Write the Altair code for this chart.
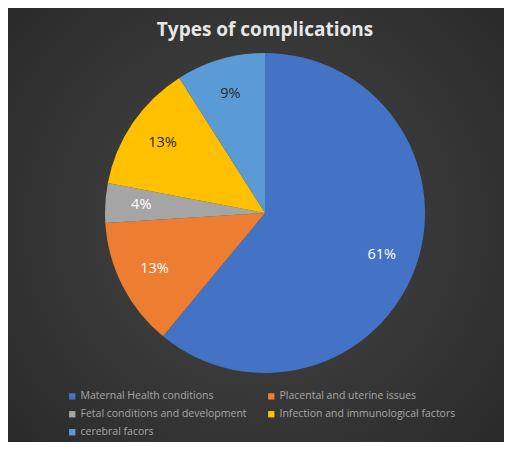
import altair as alt
import pandas as pd

categories = [
    "Maternal Health conditions",
    "Placental and uterine issues",
    "Fetal conditions and development",
    "Infection and immunological factors",
    "cerebral facors",
]
values = [61, 13, 4, 13, 9]
colors = ["#4472C4", "#ED7D31", "#A5A5A5", "#FFC000", "#5B9BD5"]
title_text = "Types of complications"

df = pd.DataFrame({
    "category": categories,
    "value": values,
    "idx": list(range(len(categories))),
})
df["label"] = [f"{v}%" for v in values]

W, H = 496, 434
CX, CY, R = 257, 205, 160

bg = alt.Chart(pd.DataFrame({"a": [0]})).mark_rect(
    fill=alt.Gradient(
        gradient="radial",
        stops=[alt.GradientStop(color="#474747", offset=0),
               alt.GradientStop(color="#262626", offset=1)],
        x1=0.5, y1=0.5, r1=0, x2=0.5, y2=0.5, r2=0.75,
    )
).encode(x=alt.value(0), x2=alt.value(W), y=alt.value(0), y2=alt.value(H))

base = alt.Chart(df).encode(
    theta=alt.Theta("value:Q", stack=True),
    order=alt.Order("idx:Q", sort="ascending"),
)

arcs = base.mark_arc(radius=R, strokeWidth=0).encode(
    color=alt.Color(
        "category:N",
        scale=alt.Scale(domain=categories, range=colors),
        legend=alt.Legend(
            title=None,
            orient="none",
            direction="horizontal",
            legendX=59,
            legendY=383,
            columns=2,
            symbolType="square",
            symbolSize=40,
            symbolStrokeWidth=0,
            labelColor="#A6A6A6",
            labelFont="Open Sans",
            labelFontSize=10.5,
            labelOffset=3,
            rowPadding=7,
            columnPadding=19,
            labelLimit=300,
        ),
    ),
    x=alt.value(CX),
    y=alt.value(CY),
)

labels = base.mark_text(radius=124, font="Open Sans", fontSize=14.5).encode(
    text="label:N",
    x=alt.value(CX),
    y=alt.value(CY),
    color=alt.condition(
        "datum.category == 'Infection and immunological factors' || datum.category == 'cerebral facors'",
        alt.value("#2a2a2a"),
        alt.value("#FFFFFF"),
    ),
)

title = alt.Chart(pd.DataFrame({"t": [title_text]})).mark_text(
    font="Open Sans", fontSize=19, fontWeight="bold", color="#E6E6E6"
).encode(text="t:N", x=alt.value(CX), y=alt.value(22))

chart = alt.layer(bg, arcs, labels, title).properties(
    width=W, height=H, padding=0, autosize="none", background="#262626"
).configure_view(strokeWidth=0)

chart.save("out.html", embed_options={"renderer": "svg", "actions": False})
